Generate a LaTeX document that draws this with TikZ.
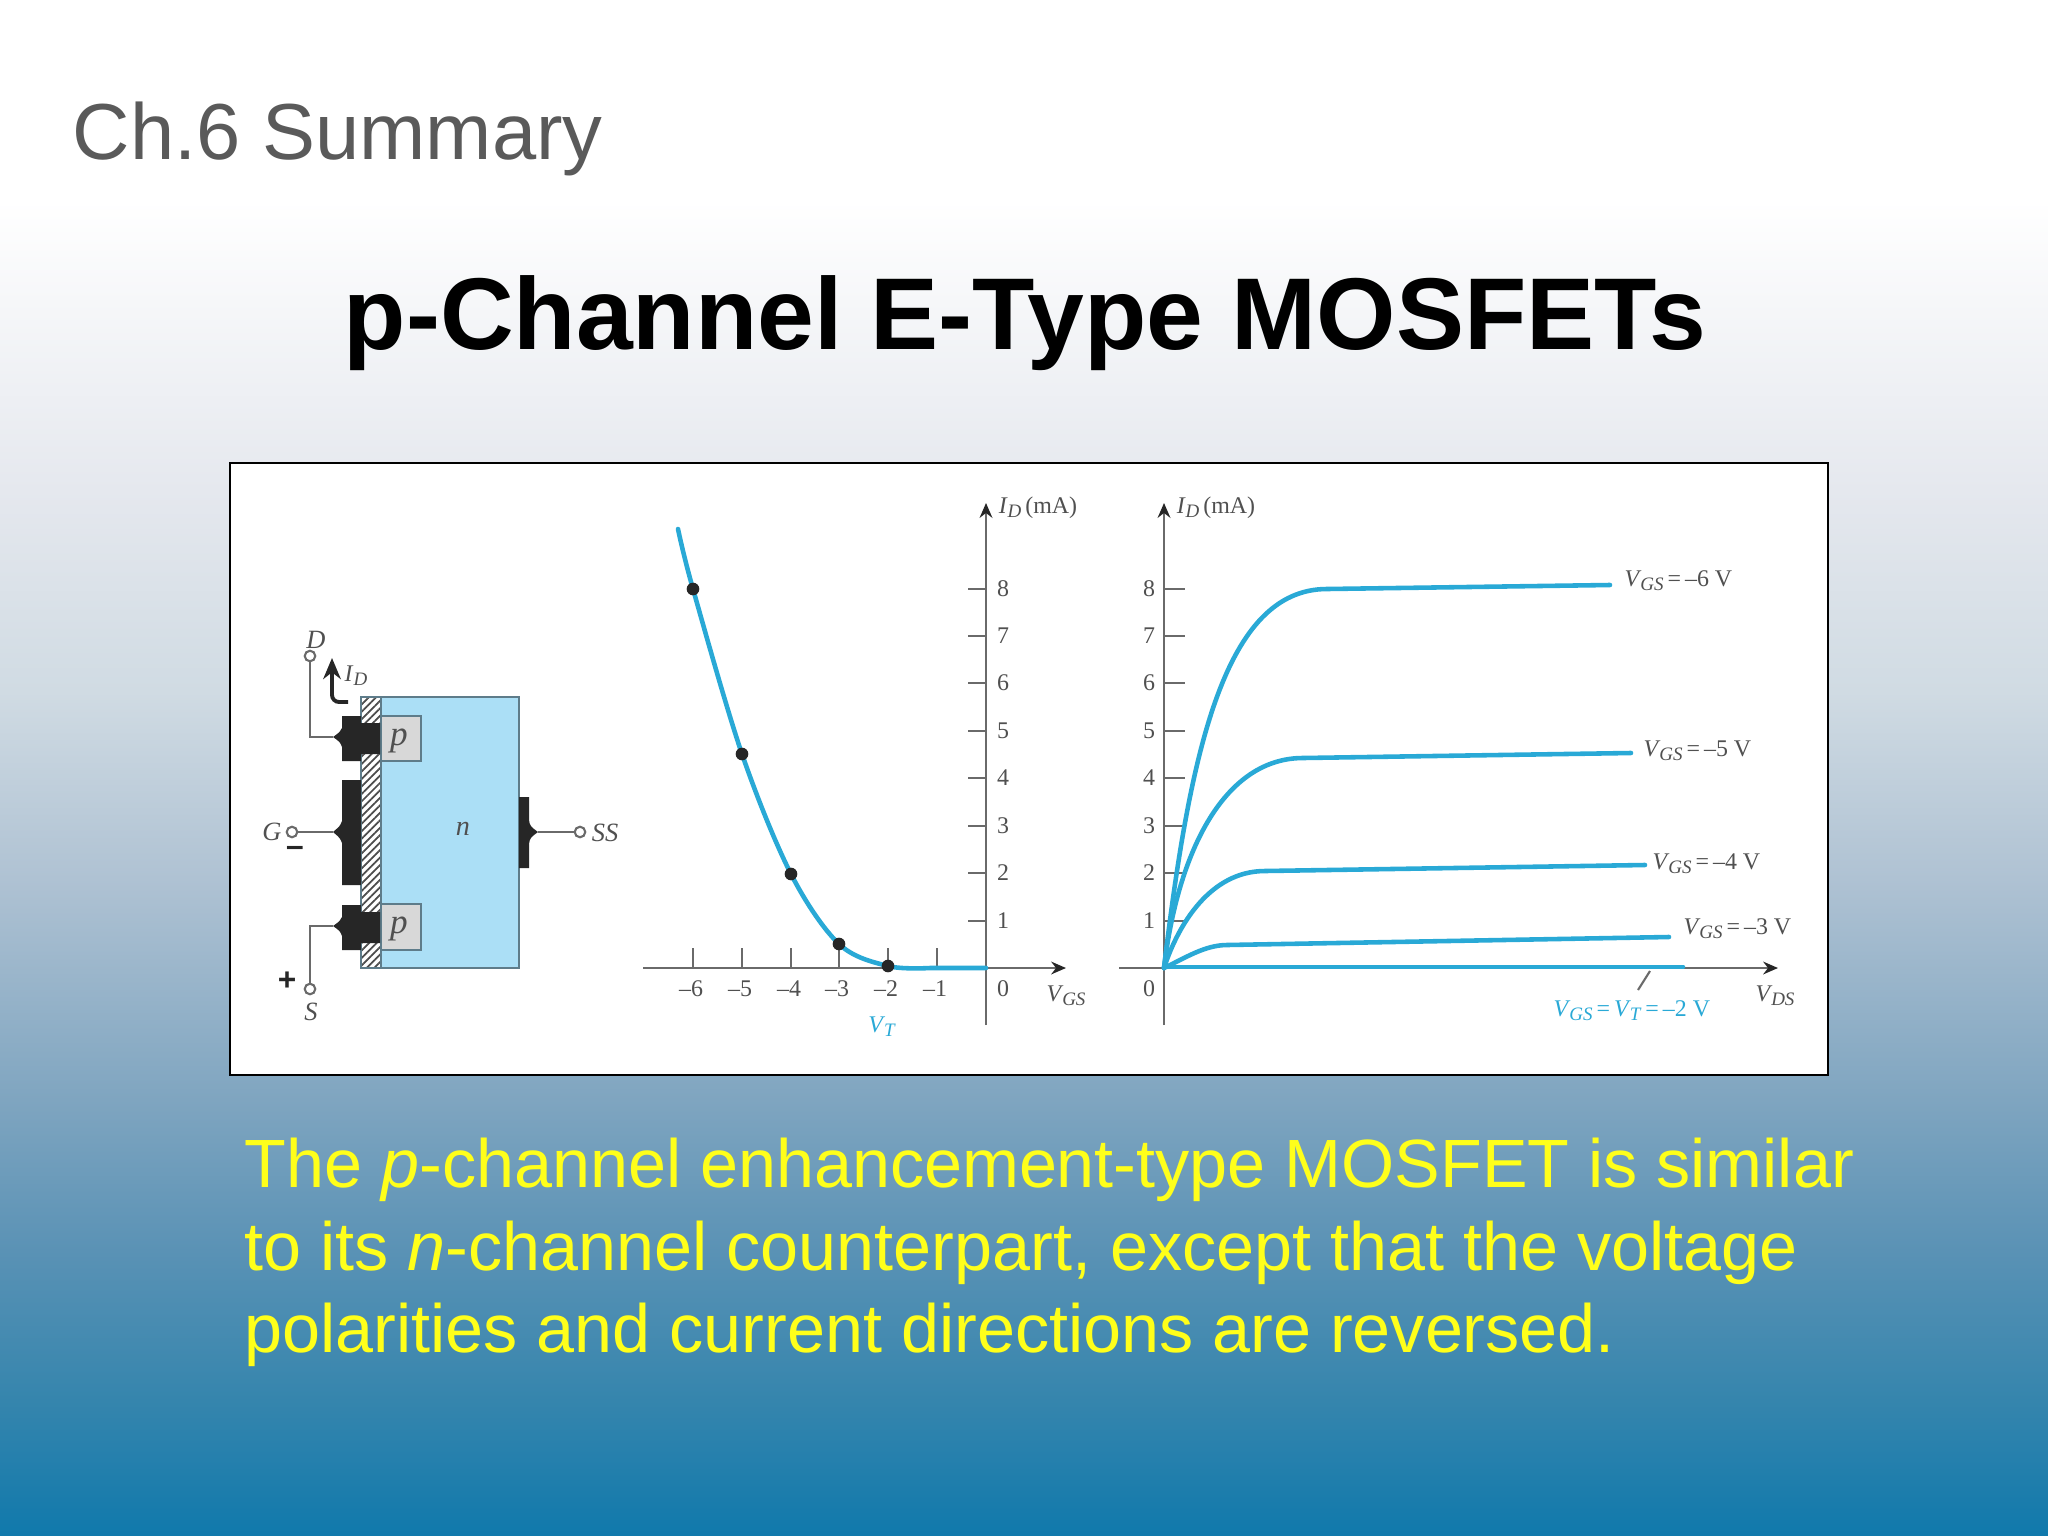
\documentclass[tikz,border=0pt]{standalone}
\usepackage{fontspec}
\setmainfont{Liberation Sans}
\newfontfamily\figf{Liberation Serif}
\usetikzlibrary{patterns.meta,arrows.meta}
\definecolor{bgA}{HTML}{FFFFFF}
\definecolor{bgB}{HTML}{F6F7F9}
\definecolor{bgC}{HTML}{E5E8EE}
\definecolor{bgD}{HTML}{D0DBE3}
\definecolor{bgE}{HTML}{AFC2D3}
\definecolor{bgF}{HTML}{7FA5C0}
\definecolor{bgG}{HTML}{5A92B5}
\definecolor{bgH}{HTML}{3585AD}
\definecolor{bgI}{HTML}{1079AC}
\definecolor{curve}{HTML}{29A9D6}
\definecolor{axisc}{HTML}{6A6A6A}
\definecolor{figtext}{HTML}{505050}
\definecolor{nblue}{HTML}{ABDFF6}
\definecolor{pgray}{HTML}{D8D8D8}
\definecolor{edgec}{HTML}{5E7C8A}
\definecolor{dark}{HTML}{262626}
\definecolor{ttext}{HTML}{5A5A5A}
\definecolor{yel}{HTML}{FFFF1A}
\pgfdeclareverticalshading{slidebg}{100bp}{
 color(0bp)=(bgI); color(25bp)=(bgI);
 color(29.4bp)=(bgH); color(34.3bp)=(bgG); color(39.2bp)=(bgF);
 color(46.4bp)=(bgE); color(52.5bp)=(bgD); color(59.05bp)=(bgC);
 color(65.2bp)=(bgB); color(68.5bp)=(bgA); color(100bp)=(bgA)}
\tikzset{
 x=0.01cm,y=-0.01cm,
 wire/.style={draw=axisc,line width=.7pt},
 term/.style={circle,draw=axisc,fill=white,line width=.6pt,inner sep=0pt,minimum size=3pt},
 contact/.style={fill=dark,draw=none},
 figlabel/.style={font=\figf\fontsize{6.8}{8}\selectfont,text=figtext,inner sep=0pt},
 axisline/.style={draw=axisc,line width=.8pt},
 tickline/.style={draw=axisc,line width=.7pt},
 axisarrow/.style={axisline,-{Stealth[length=4.2pt,width=3.6pt,color=dark]}},
 curveline/.style={draw=curve,line width=1.3pt,line cap=round},
 dotp/.style={circle,fill=black!85,inner sep=0pt,minimum size=3.6pt},
 bodytext/.style={anchor=base west,inner sep=0pt,text=yel,font=\fontsize{19.42}{24}\selectfont},
}
\newcommand{\Vsub}[1]{\textit{V}\kern-.05em\raisebox{-.35ex}{\fontsize{5.4}{6}\selectfont\textit{#1}}}
\newcommand{\Isub}[1]{\textit{I}\raisebox{-.35ex}{\fontsize{5.4}{6}\selectfont\textit{#1}}}
\begin{document}
\begin{tikzpicture}
\useasboundingbox (0,0) rectangle (2048,1536);
\shade[shading=slidebg] (0,0) rectangle (2048,1536);
% titles
\node[anchor=base west,inner sep=0pt,text=ttext,font=\fontsize{22.6}{26}\selectfont] (chap) at (72,159) {Ch.6 Summary};
\node[anchor=base west,inner sep=0pt,text=black,font=\fontsize{29.02}{34}\selectfont\bfseries] (title) at (343,349) {p-Channel E-Type MOSFETs};
% frame
\node[draw=black,fill=white,line width=.6pt,inner sep=0pt,minimum width=1598*0.01cm,minimum height=612*0.01cm,anchor=north west] (frame) at (228.5,461.5) {};
% device
\fill[nblue] (381,697) rectangle (519,968);
\draw[draw=edgec,line width=.6pt] (361,697) rectangle (519,968);
\fill[white] (361,697) rectangle (381,968);
\fill[pattern={Lines[angle=45,distance=1.5pt,line width=.5pt]},pattern color=black!70] (361,697) rectangle (381,968);
\draw[draw=edgec,line width=.6pt] (361,697) rectangle (381,968);
\draw[draw=edgec,fill=pgray,line width=.6pt] (381,716) rectangle (421,761);
\draw[draw=edgec,fill=pgray,line width=.6pt] (381,904) rectangle (421,950);
\fill[contact] (342,716) -- (361,716) -- (361,723) -- (380,723) -- (380,754) -- (361,754) -- (361,761) -- (342,761) -- (342,747) .. controls (340,742) .. (333,737) .. controls (340,732) .. (342,728) -- cycle;
\fill[contact] (342,905) -- (361,905) -- (361,912) -- (380,912) -- (380,943) -- (361,943) -- (361,950) -- (342,950) -- (342,936) .. controls (340,931) .. (333,926) .. controls (340,921) .. (342,917) -- cycle;
\fill[contact] (342,780) -- (361,780) -- (361,885) -- (342,885) -- (342,843) .. controls (340,838) .. (333,832) .. controls (340,826) .. (342,821) -- cycle;
\fill[contact] (519,797) -- (529,797) -- (529,820) .. controls (530,826) .. (538,832) .. controls (530,838) .. (529,844) -- (529,868) -- (519,868) -- cycle;
\coordinate (dc) at (333,737);
\coordinate (sc) at (333,926);
\coordinate (gc) at (333,832);
\coordinate (ssc) at (538,832);
\node[term] (D) at (310,656) {};
\node[term] (S) at (310,989) {};
\node[term] (G) at (292,832) {};
\node[term] (SS) at (580,832) {};
\draw[wire] (D) |- (dc);
\draw[wire] (S) |- (sc);
\draw[wire] (G) -- (gc);
\draw[wire] (SS) -- (ssc);
\coordinate (ida) at (348,702);
\coordinate (idb) at (332,658);
\draw[draw=dark,line width=1.1pt,rounded corners=2pt,-{Stealth[length=6pt,width=5pt]}] (ida) -- (332,702) -- (idb);
\node[figlabel] (lD) at (316,640) {\fontsize{7.5}{8}\selectfont\textit{D}};
\node[figlabel] (lS) at (311,1012) {\fontsize{7.5}{8}\selectfont\textit{S}};
\node[figlabel] (lG) at (272,832) {\fontsize{7.5}{8}\selectfont\textit{G}};
\node[figlabel] (lSS) at (605,833) {\fontsize{7.5}{8}\selectfont\textit{SS}};
\node[figlabel] (lID) at (356,676) {\Isub{D}};
\node[figlabel] (ln) at (463,829) {\fontsize{8}{9}\selectfont\textit{n}};
\node[figlabel] (lp1) at (399,741) {\fontsize{10}{11}\selectfont\textit{p}};
\node[figlabel] (lp2) at (399,929) {\fontsize{10}{11}\selectfont\textit{p}};
\node[figlabel,font=\bfseries\fontsize{9}{10}\selectfont,text=dark] (lplus) at (287,981) {+};
\node[figlabel,font=\bfseries\fontsize{9}{10}\selectfont,text=dark] (lminus) at (295,851) {–};
% transfer plot
\coordinate (t0) at (986,968);
\draw[axisarrow] (986,1025) -- (986,503);
\draw[axisarrow] (643,968) -- (1066,968);
\foreach \y/\l in {589/8,636/7,683/6,731/5,778/4,826/3,873/2,921/1}{
  \draw[tickline] (968,\y) -- (986,\y);
  \node[figlabel] at (1003,\y) {\l};
}
\foreach \x/\l in {693/–6,742/–5,791/–4,839/–3,888/–2,937/–1}{
  \draw[tickline] (\x,948) -- (\x,968);
  \node[figlabel] at (\x-2,989) {\l};
}
\node[figlabel] (t00) at (1003,989) {0};
\draw[curveline] plot[smooth,tension=.55] coordinates {(678,529) (693,589) (742,754) (791,874) (839,944) (888,966) (930,968)} -- (986,968);
\foreach \x/\y in {693/589,742/754,791/874,839/944,888/966}{
  \node[dotp] at (\x,\y) {};
}
\node[figlabel] (tid) at (1038,508) {\Isub{D}\,(mA)};
\node[figlabel] (tvgs) at (1066,996) {\Vsub{GS}};
\node[figlabel,text=curve] (tvt) at (882,1027) {\Vsub{T}};
% output plot
\draw[axisarrow] (1164,1025) -- (1164,503);
\draw[axisarrow] (1119,968) -- (1778,968);
\foreach \y/\l in {589/8,636/7,683/6,731/5,778/4,826/3,873/2,921/1}{
  \draw[tickline] (1164,\y) -- (1185,\y);
  \node[figlabel] at (1149,\y) {\l};
}
\node[figlabel] (o00) at (1149,989) {0};
\draw[curveline] (1164,968) .. controls (1190,750) and (1225,589) .. (1327,589) -- (1610,585);
\draw[curveline] (1164,968) .. controls (1178,850) and (1225,758) .. (1303,758) -- (1631,753);
\draw[curveline] (1164,968) .. controls (1178,925) and (1210,871) .. (1265,871) -- (1645,865);
\draw[curveline] (1164,968) .. controls (1185,958) and (1205,945) .. (1227,945) -- (1669,937);
\draw[curveline] (1164,967) -- (1683,967);
\node[figlabel] (oid) at (1216,508) {\Isub{D}\,(mA)};
\node[figlabel] (ovds) at (1775,996) {\Vsub{DS}};
\node[figlabel,anchor=west] (l6) at (1624,581) {\Vsub{GS}\,=\,–6 V};
\node[figlabel,anchor=west] (l5) at (1643,751) {\Vsub{GS}\,=\,–5 V};
\node[figlabel,anchor=west] (l4) at (1652,864) {\Vsub{GS}\,=\,–4 V};
\node[figlabel,anchor=west] (l3) at (1683,929) {\Vsub{GS}\,=\,–3 V};
\node[figlabel,text=curve,anchor=west] (l2) at (1553,1011) {\Vsub{GS}\,=\,\Vsub{T}\,=\,–2 V};
\coordinate (ptr) at (1650,971);
\coordinate (ptrb) at (1638,990);
\draw[draw=axisc,line width=.6pt] (ptr) -- (ptrb);
% body text
\node[bodytext] (b1) at (244,1187) {The \textit{p}-channel enhancement-type MOSFET is similar};
\node[bodytext] (b2) at (244,1270) {to its \textit{n}-channel counterpart, except that the voltage};
\node[bodytext] (b3) at (244,1352) {polarities and current directions are reversed.};
\end{tikzpicture}
\end{document}
